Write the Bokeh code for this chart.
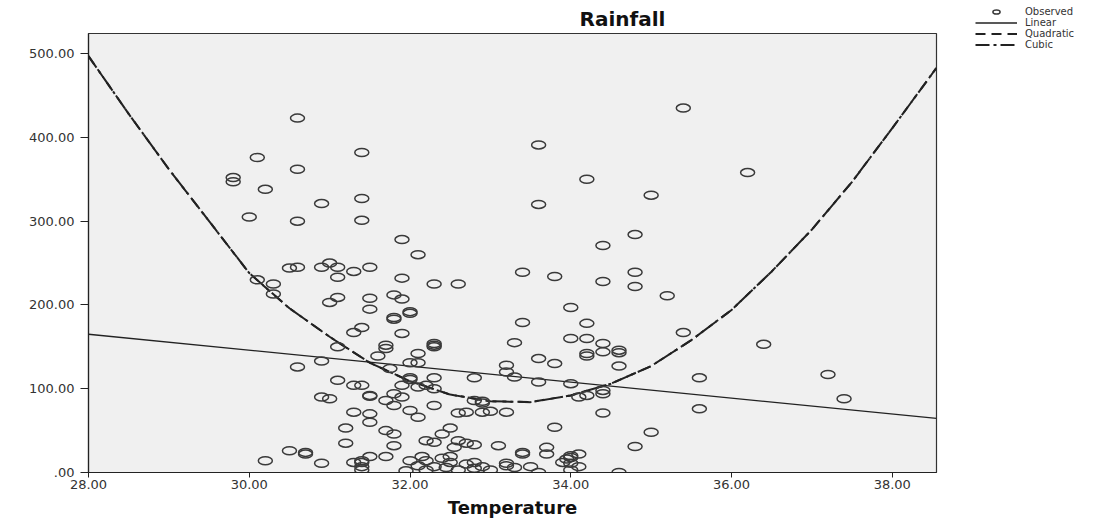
from bokeh.plotting import figure
from bokeh.layouts import row, column
from bokeh.models import Range1d, FixedTicker, Legend, LegendItem
from bokeh.embed import file_html
from bokeh.resources import INLINE

# Observed points (Temperature, Rainfall)
temperature = [
    30.6, 30.1, 29.8, 29.8, 30.2, 30.9, 31.4, 30.6, 31.4, 30.0, 30.6, 31.4,
    33.6, 34.2, 33.6, 35.0, 34.8, 34.4, 31.9, 32.1, 35.4, 36.2,
    30.5, 30.6, 30.9, 31.0, 31.1, 31.3, 31.5, 31.1, 31.9,
    30.1, 30.3, 30.3, 32.3, 32.6, 33.4, 33.8, 34.4, 34.8, 34.8, 35.2,
    31.0, 31.1, 31.5, 31.5, 31.8, 31.9, 32.0, 32.0, 31.8, 31.8, 31.9,
    34.0, 33.4, 34.2, 35.4, 36.4,
    31.3, 31.4, 31.1, 30.9, 30.6, 31.6,
    32.3, 32.3, 32.3, 31.7, 31.7, 32.1, 32.0, 32.1,
    33.3, 34.0, 34.2, 34.4, 34.4, 34.2, 34.2, 34.6, 34.6, 34.6,
    33.6, 33.8, 33.2, 33.2, 32.8, 32.0, 32.0, 32.3, 31.75, 33.6, 34.0, 33.3,
    31.1, 31.3, 31.4, 31.5, 30.9, 31.0,
    31.9, 32.1, 32.2, 32.3, 31.5, 31.8, 31.9, 31.7, 31.8, 32.3, 32.8, 32.9, 32.9,
    32.6, 32.7, 32.9, 33.0, 33.2, 34.1, 34.2, 34.4, 34.4, 34.4, 32.0, 32.1,
    35.6, 37.2, 37.4, 35.6,
    31.3, 31.5, 31.5, 31.2, 31.2,
    33.8, 35.0, 34.8, 31.7, 31.8, 31.8, 32.5, 32.4, 32.2, 32.3, 32.6, 32.7,
    32.55, 32.8, 33.1, 33.4, 33.7, 33.7, 34.0, 34.0, 34.1,
    30.2, 30.5, 30.7, 30.7, 30.9, 31.4, 31.4, 31.5, 31.7, 31.95, 32.0, 32.15,
    32.1, 32.4, 32.3, 32.45, 32.5, 32.8, 32.8, 32.9, 33.2, 33.4, 33.5, 33.6,
    33.9, 33.95, 34.1, 34.6, 32.2, 32.5, 33.2, 33.3, 34.0, 31.3, 31.4, 31.4,
    32.6, 32.2, 33.0, 34.0, 32.7,
]
rainfall = [
    423, 376, 352, 347, 338, 321, 382, 362, 327, 305, 300, 301,
    391, 350, 320, 331, 284, 271, 278, 260, 435, 358,
    244, 245, 245, 250, 245, 240, 245, 233, 232,
    230, 225, 213, 225, 225, 239, 234, 228, 239, 222, 211,
    203, 209, 208, 195, 212, 207, 192, 190, 185, 183, 166,
    197, 179, 178, 167, 153,
    167, 173, 150, 133, 126, 139,
    152, 150, 154, 152, 148, 142, 131, 131,
    155, 160, 160, 154, 144, 142, 139, 146, 143, 127,
    136, 130, 128, 120, 113, 113, 111, 113, 124, 108, 106, 114,
    110, 104, 104, 91, 90, 88,
    104, 102, 104, 100, 92, 94, 90, 86, 80, 80, 86, 85, 83,
    71, 72, 72, 73, 72, 90, 92, 94, 98, 71, 74, 66,
    113, 117, 88, 76,
    72, 70, 60, 53, 35,
    54, 48, 31, 50, 46, 32, 53, 46, 38, 36, 38, 35,
    30, 33, 32, 24, 30, 22, 20, 18, 22,
    14, 26, 22, 24, 11, 12, 7, 19, 19, 2, 14, 19,
    8, 17, 7, 6, 19, 12, 5, 7, 8, 22, 7, 0,
    12, 16, 7, 0, 14, 12, 11, 6, 11, 12, 14, 3,
    3, 3, 3, 3, 10,
]

# Fitted curves
linear_x = [28.0, 38.55]
linear_y = [165.0, 64.5]

fit_x = [28.0, 28.5, 29.0, 29.5, 30.0, 30.5, 31.0, 31.5, 32.0, 32.5, 33.0,
         33.5, 34.0, 34.5, 35.0, 35.5, 36.0, 36.5, 37.0, 37.5, 38.0, 38.55]
quad_y = [497, 428, 362, 300, 238, 196, 162, 131, 109, 93, 85,
          84, 92, 106, 127, 158, 194, 240, 290, 347, 411, 483]
cubic_y = [497, 428, 362, 300, 238, 196, 162, 131, 109, 93, 85,
           84, 92, 106, 127, 158, 194, 240, 290, 347, 411, 483]

x_ticks = [28, 30, 32, 34, 36, 38]
x_tick_labels = ["28.00", "30.00", "32.00", "34.00", "36.00", "38.00"]
y_ticks = [0, 100, 200, 300, 400, 500]
y_tick_labels = [".00", "100.00", "200.00", "300.00", "400.00", "500.00"]

FONT = "DejaVu Sans"
INK = "#222222"

MAIN_W = 972

p = figure(
    width=MAIN_W, height=521,
    x_range=Range1d(28, 38.55), y_range=Range1d(0, 524),
    output_backend="svg", toolbar_location=None,
    min_border_left=88, min_border_right=MAIN_W - 936,
    min_border_top=33, min_border_bottom=49,
    background_fill_color="#F0F0F0", border_fill_color="white",
    title="Rainfall", x_axis_label="Temperature",
)

p.title.align = "left"
p.title.offset = 491
p.title.vertical_align = "middle"
p.title.standoff = 4
p.title.text_font = FONT
p.title.text_font_style = "bold"
p.title.text_font_size = "20px"
p.title.text_color = "#111111"

p.outline_line_color = "#333333"
p.outline_line_width = 1.2
p.xgrid.visible = False
p.ygrid.visible = False

for ax in (p.xaxis[0], p.yaxis[0]):
    ax.axis_line_color = INK
    ax.axis_line_width = 1.2
    ax.major_tick_line_color = INK
    ax.major_tick_in = 0
    ax.minor_tick_line_color = None
    ax.major_label_text_font = FONT
    ax.major_label_text_font_size = "13px"
    ax.major_label_text_color = "#333333"

p.xaxis.ticker = FixedTicker(ticks=x_ticks)
p.xaxis.major_label_overrides = dict(zip(x_ticks, x_tick_labels))
p.xaxis.major_tick_out = 5
p.xaxis.major_label_standoff = 2
p.xaxis.axis_label_standoff = 5
p.xaxis.axis_label_text_font = FONT
p.xaxis.axis_label_text_font_style = "bold"
p.xaxis.axis_label_text_font_size = "18px"
p.xaxis.axis_label_text_color = "#111111"

p.yaxis.ticker = FixedTicker(ticks=y_ticks)
p.yaxis.major_label_overrides = dict(zip(y_ticks, y_tick_labels))
p.yaxis.major_tick_out = 8
p.yaxis.major_label_standoff = 6

LIN_STYLE = dict(line_color=INK, line_width=1.3)
QUAD_STYLE = dict(line_color=INK, line_width=2, line_dash="10 6")
CUB_STYLE = dict(line_color=INK, line_width=2, line_dash="14 4 3 4")
OBS_STYLE = dict(width=14, height=8, width_units="screen", height_units="screen",
                 fill_color=None, line_color="#3a3a3a", line_width=1.5)

p.line(linear_x, linear_y, **LIN_STYLE)
p.line(fit_x, quad_y, **QUAD_STYLE)
p.line(fit_x, cubic_y, **CUB_STYLE)
p.ellipse(temperature, rainfall, **OBS_STYLE)

# Legend panel placed to the right of the chart, above the plot's top edge
lg = figure(
    width=1104 - MAIN_W, height=521,
    x_range=Range1d(-100, -99), y_range=Range1d(-100, -99),
    x_axis_type=None, y_axis_type=None, title_location=None,
    output_backend="svg", toolbar_location=None,
    min_border_left=3, min_border_right=0, min_border_top=6, min_border_bottom=0,
    outline_line_color=None, background_fill_color="white",
    border_fill_color="white",
)
lg.xgrid.visible = False
lg.ygrid.visible = False
l_obs = lg.ellipse(temperature, rainfall, **OBS_STYLE)
l_lin = lg.line(linear_x, linear_y, **LIN_STYLE)
l_quad = lg.line(fit_x, quad_y, **QUAD_STYLE)
l_cub = lg.line(fit_x, cubic_y, **CUB_STYLE)

legend = Legend(
    items=[
        LegendItem(label="Observed", renderers=[l_obs]),
        LegendItem(label="Linear", renderers=[l_lin]),
        LegendItem(label="Quadratic", renderers=[l_quad]),
        LegendItem(label="Cubic", renderers=[l_cub]),
    ],
    location="top_left",
    background_fill_alpha=0, border_line_color=None,
    padding=0, margin=0, spacing=0,
    glyph_width=42, glyph_height=9, label_height=9,
    label_standoff=8,
    label_text_font=FONT, label_text_font_size="10px",
    label_text_line_height=0.9,
    label_text_color="#333333",
)
lg.add_layout(legend)

layout = row(p, column(lg), spacing=0)
open("out.html", "w").write(file_html(layout, INLINE))
